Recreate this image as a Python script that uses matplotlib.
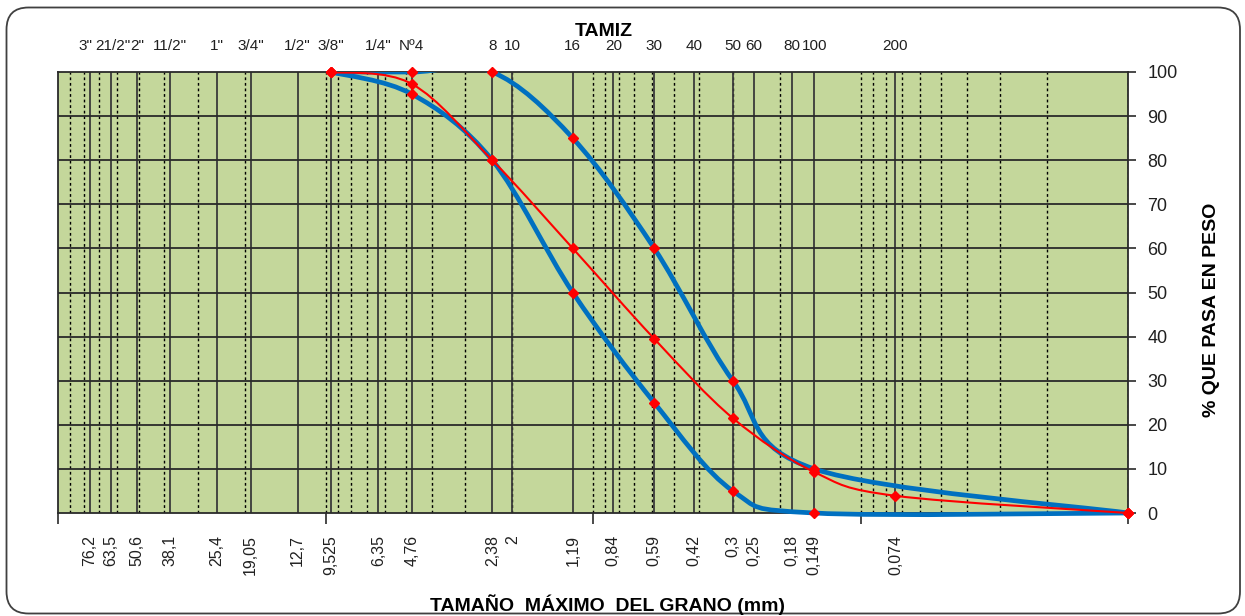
import numpy as np
import matplotlib
matplotlib.use("Agg")
import matplotlib.pyplot as plt
import matplotlib.transforms as mtransforms
from matplotlib.path import Path
from matplotlib.patches import PathPatch, FancyBboxPatch, Rectangle

plt.rcParams['font.family'] = ['Liberation Sans', 'DejaVu Sans']

# Sieve openings (mm), their sieve names and the printed size labels
sieve_mm = [76.2, 63.5, 50.6, 38.1, 25.4, 19.05, 12.7, 9.525, 6.35, 4.76,
            2.38, 2.0, 1.19, 0.84, 0.59, 0.42, 0.3, 0.25, 0.18, 0.149, 0.074]
sieve_names = ['3"', '21/2"', '2"', '11/2"', '1"', '3/4"', '1/2"', '3/8"',
               '1/4"', 'Nº4', '8', '10', '16', '20', '30', '40', '50', '60',
               '80', '100', '200']
size_labels = ['76,2', '63,5', '50,6', '38,1', '25,4', '19,05', '12,7',
               '9,525', '6,35', '4,76', '2,38', '2', '1,19', '0,84', '0,59',
               '0,42', '0,3', '0,25', '0,18', '0,149', '0,074']

# Grading band limits and sample curve (% passing)
upper_mm = [9.525, 4.76, 2.38, 1.19, 0.59, 0.3, 0.149, 0.01]
upper_pct = [100, 100, 100, 85, 60, 30, 10, 0]
lower_mm = [9.525, 4.76, 2.38, 1.19, 0.59, 0.3, 0.149, 0.01]
lower_pct = [100, 95, 80, 50, 25, 5, 0, 0]
sample_mm = [9.525, 4.76, 2.38, 1.19, 0.59, 0.3, 0.149, 0.074, 0.01]
sample_pct = [100, 97.3, 80, 60, 39.5, 21.5, 9.3, 3.9, 0]

y_ticks = list(range(0, 101, 10))

W, H = 1245, 616
fig = plt.figure(figsize=(W / 100, H / 100), dpi=100)
ax = fig.add_axes([58 / W, (H - 513) / H, (1128 - 58) / W, (513 - 72) / H])
ax.set_facecolor('#C4D79B')
ax.set_xscale('log')
ax.set_xlim(100, 0.01)
ax.set_ylim(0, 100)

# Log-cycle dashed grid and solid sieve lines
minor_pos = [n * 10.0 ** k for k in range(-2, 2) for n in range(1, 10)]
ax.vlines(minor_pos, 0, 100, colors='black', linestyles=(0, (2, 2)),
          linewidth=1.0, zorder=1)
ax.vlines(sieve_mm, 0, 100, colors='#3a3a3a', linewidth=1.3, zorder=1)
ax.hlines(y_ticks[1:-1], 100, 0.01, colors='#2a2a2a', linewidth=1.3, zorder=1)

for s in ax.spines.values():
    s.set_color('#2a2a2a')
    s.set_linewidth(1.3)


def smooth_path(xs, ys):
    """Smoothed (Catmull-Rom style Bezier) path through points in log-x space."""
    P = np.column_stack([np.log10(xs), np.asarray(ys, float)])
    n = len(P)
    verts = [P[0]]
    codes = [Path.MOVETO]
    for i in range(n - 1):
        p0 = P[i - 1] if i > 0 else P[i]
        p1, p2 = P[i], P[i + 1]
        p3 = P[i + 2] if i + 2 < n else P[i + 1]
        verts += [p1 + (p2 - p0) / 6, p2 - (p3 - p1) / 6, p2]
        codes += [Path.CURVE4] * 3
    V = np.array(verts)
    V[:, 0] = 10 ** V[:, 0]
    return Path(V, codes)


clip = Rectangle((0, -0.02), 1, 1.02, transform=ax.transAxes)
for xs, ys, col, lw, z in [(upper_mm, upper_pct, '#0070C0', 3.4, 3),
                           (lower_mm, lower_pct, '#0070C0', 3.4, 3),
                           (sample_mm, sample_pct, '#FF0000', 1.5, 4)]:
    patch = PathPatch(smooth_path(xs, ys), facecolor='none', edgecolor=col,
                      linewidth=lw, zorder=z, capstyle='round')
    ax.add_patch(patch)
    patch.set_clip_path(clip)

for xs, ys in [(upper_mm, upper_pct), (lower_mm, lower_pct), (sample_mm, sample_pct)]:
    ax.plot(xs, ys, ls='none', marker='D', ms=5.5, color='#FF0000',
            zorder=5, clip_on=False)

# Bottom axis: decade tick marks, sieve size labels as minor ticks
ax.set_xticks([100, 10, 1, 0.1, 0.01])
ax.set_xticklabels([''] * 5)
ax.set_xticks(sieve_mm, minor=True)
ax.set_xticklabels(size_labels, minor=True, rotation=90, fontsize=11.5,
                   color='#202020')
ax.tick_params(axis='x', which='major', direction='out', length=8,
               width=1.2, color='#2a2a2a')
ax.tick_params(axis='x', which='minor', length=0, pad=16)

# Right percentage axis
ax.yaxis.tick_right()
ax.set_yticks(y_ticks)
ax.tick_params(axis='y', which='both', direction='out', length=6, width=1.2,
               color='#2a2a2a', labelsize=13, pad=8, labelcolor='#202020')
ax.yaxis.set_minor_locator(matplotlib.ticker.NullLocator())

# Sieve names along the top (the two largest sit tight together)
trans = mtransforms.blended_transform_factory(ax.transData, ax.transAxes)
for x, name in zip(sieve_mm, sieve_names):
    dx = -4 if name == '3"' else (2 if name == '21/2"' else 0)
    t = trans + mtransforms.ScaledTranslation(dx / 100, 0, fig.dpi_scale_trans)
    ax.text(x, 1 + 26 / 441, name, transform=t, ha='center', va='center',
            fontsize=11, color='#202020', clip_on=False)

fig.text(604 / W, 1 - 32 / H, 'TAMIZ', ha='center', va='center',
         fontsize=14, fontweight='bold')
fig.text(607 / W, 1 - 605 / H, 'TAMAÑO  MÁXIMO  DEL GRANO (mm)',
         ha='center', va='center', fontsize=14, fontweight='bold')
fig.text(1212 / W, 1 - 310 / H, '% QUE PASA EN PESO', rotation=90,
         ha='center', va='center', fontsize=14, fontweight='bold')

# Rounded outer frame
frame = FancyBboxPatch((0.065, 0.025), 12.335, 6.06,
                       boxstyle='round,pad=0,rounding_size=0.22',
                       transform=fig.dpi_scale_trans, facecolor='none',
                       edgecolor='#404040', linewidth=1.3)
fig.add_artist(frame)

fig.savefig('out.png', dpi=100)
